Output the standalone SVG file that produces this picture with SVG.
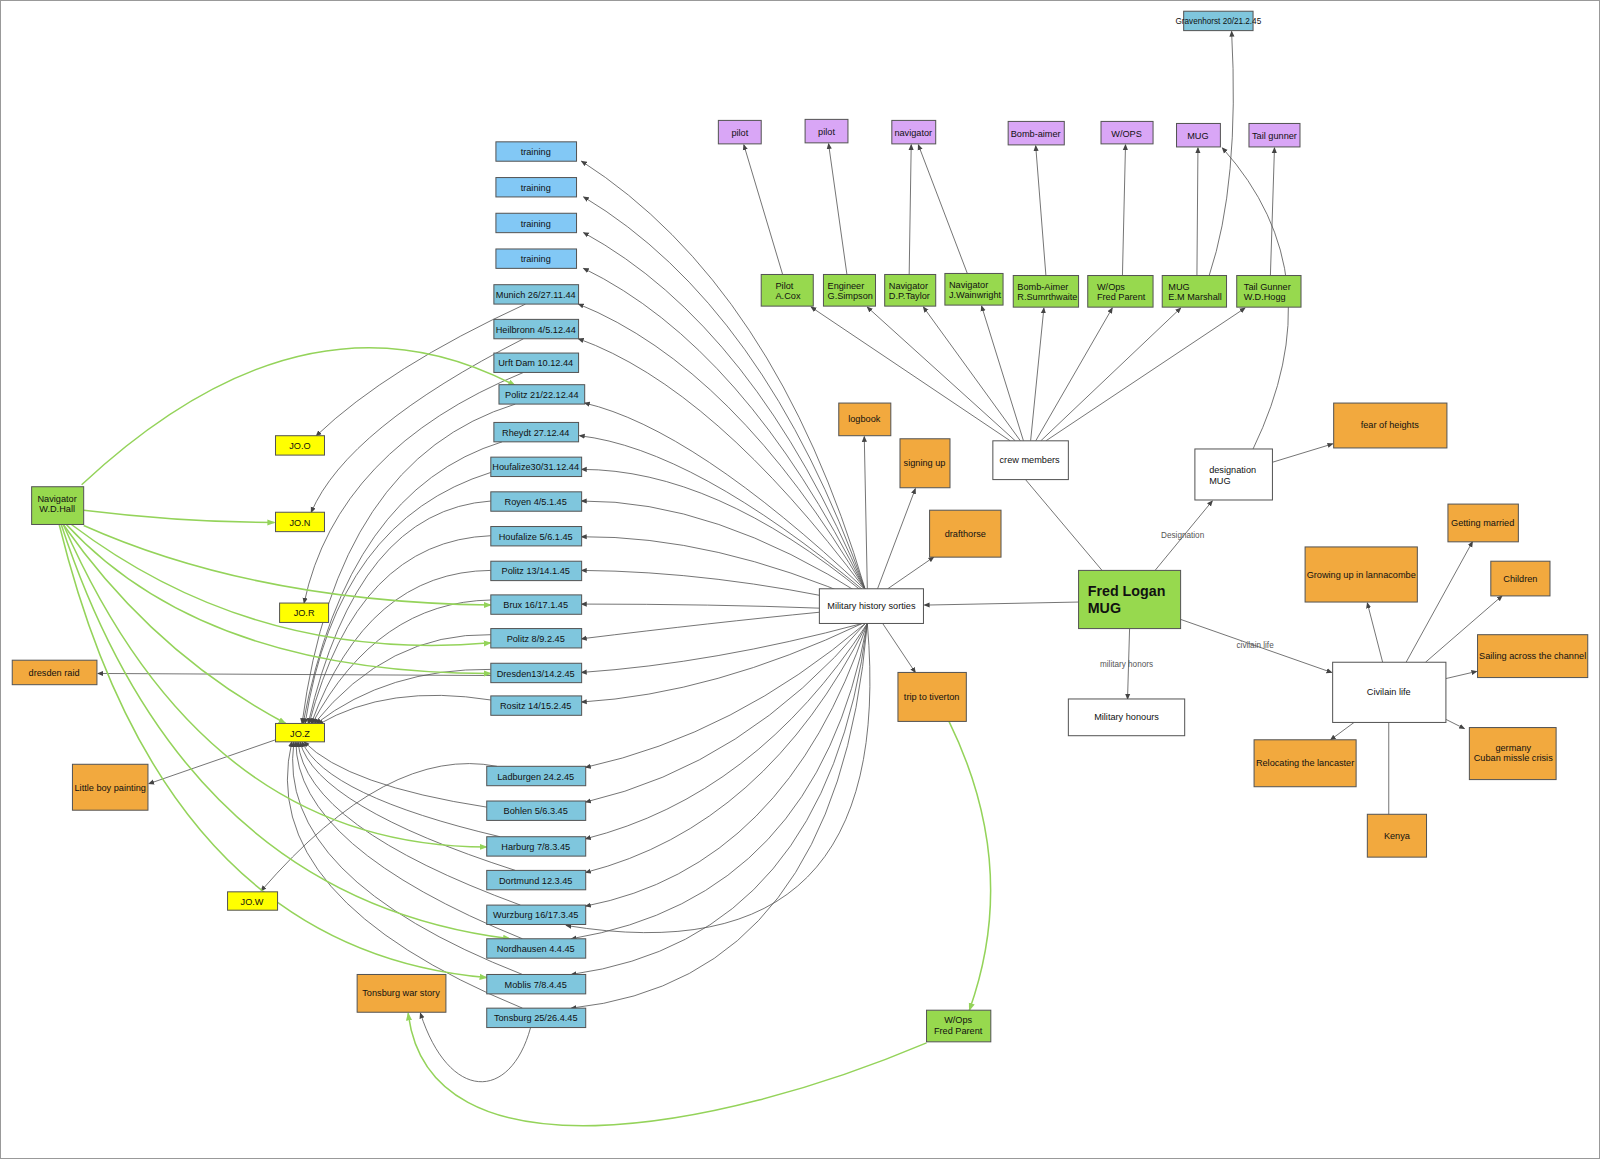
<svg xmlns="http://www.w3.org/2000/svg" width="1600" height="1159" viewBox="0 0 1600 1159">
<style>
text{font-family:"Liberation Sans",Arial,sans-serif;font-size:9px;fill:#111;text-anchor:middle}
.n rect{stroke:#555;stroke-width:1}
.b rect{fill:#7fc6dd}.t rect{fill:#82c8f5}.y rect{fill:#ffff00}.o rect{fill:#f2a93e}.g rect{fill:#97d94e}.p rect{fill:#d9a6f6}.w rect{fill:#fff}
.c path{fill:none;stroke:#555;stroke-width:0.8}
.c path.a{marker-end:url(#ar)}
.c path.gr{stroke:#94d35a;stroke-width:1.5;marker-end:url(#ag)}
.lbl{font-size:8px;fill:#555}
</style>
<defs>
<marker id="ar" markerWidth="6" markerHeight="6" refX="5" refY="3" orient="auto" markerUnits="userSpaceOnUse"><path d="M0,0.5 L6,3 L0,5.5 z" fill="#444"/></marker>
<marker id="ag" markerWidth="8" markerHeight="8" refX="7" refY="4" orient="auto" markerUnits="userSpaceOnUse"><path d="M0,1 L8,4 L0,7 z" fill="#94d35a"/></marker>
</defs>
<rect x="0" y="0" width="1600" height="1159" fill="#fff"/>
<rect x="0.5" y="0.5" width="1599" height="1158" fill="none" stroke="#999"/>
<g transform="scale(1.0204)">
<g id="connectors" class="c">
<path class="a" d="M848 578 Q 760 280 570 158"/>
<path class="a" d="M848 578 Q 750 300 572 193"/>
<path class="a" d="M848 578 Q 740 320 572 228"/>
<path class="a" d="M848 578 Q 730 340 572 263"/>
<path class="a" d="M848 578 Q 720 360 567 298"/>
<path class="a" d="M848 578 Q 700 380 567 332"/>
<path class="a" d="M848 578 Q 680 420 573 395"/>
<path class="a" d="M848 580 Q 680 440 568 427"/>
<path class="a" d="M848 582 Q 700 460 570 460"/>
<path class="a" d="M848 585 Q 700 490 570 491"/>
<path class="a" d="M848 590 Q 700 525 570 526"/>
<path class="a" d="M845 592 Q 700 560 570 559"/>
<path class="a" d="M803 596 Q 700 592 570 592"/>
<path class="a" d="M803 600 Q 700 610 570 626"/>
<path class="a" d="M845 611 Q 700 650 570 659"/>
<path class="a" d="M845 611 Q 700 680 570 688"/>
<path class="a" d="M848 611 Q 720 720 574 752"/>
<path class="a" d="M848 611 Q 730 750 574 786"/>
<path class="a" d="M850 611 Q 740 780 574 822"/>
<path class="a" d="M850 611 Q 750 810 574 855"/>
<path class="a" d="M850 611 Q 770 850 574 888"/>
<path class="a" d="M850 611 Q 880 960 555 907"/>
<path class="a" d="M850 611 Q 800 880 560 920"/>
<path class="a" d="M850 611 Q 810 920 560 955"/>
<path class="a" d="M850 611 Q 820 960 560 988"/>
<path class="a" d="M505 396 Q 330 450 296 709"/>
<path class="a" d="M492 433 Q 340 480 297 709"/>
<path class="a" d="M481 463 Q 330 510 299 709"/>
<path class="a" d="M481 491 Q 350 500 302 709"/>
<path class="a" d="M481 525 Q 350 530 303 709"/>
<path class="a" d="M481 559 Q 360 560 305 709"/>
<path class="a" d="M481 588 Q 370 590 306 709"/>
<path class="a" d="M481 622 Q 380 620 308 709"/>
<path class="a" d="M481 656 Q 380 655 310 709"/>
<path class="a" d="M481 686 Q 380 670 312 710"/>
<path class="a" d="M477 791 Q 340 770 298 727"/>
<path class="a" d="M490 820 Q 320 780 296 727"/>
<path class="a" d="M505 853 Q 310 790 294 727"/>
<path class="a" d="M510 887 Q 300 810 292 727"/>
<path class="a" d="M512 920 Q 290 830 290 727"/>
<path class="a" d="M512 955 Q 270 860 288 727"/>
<path class="a" d="M512 988 Q 250 880 286 727"/>
<path class="a" d="M515 298 Q 380 360 310 427"/>
<path class="a" d="M513 332 Q 340 420 305 502"/>
<path class="a" d="M513 365 Q 330 440 298 591"/>
<path class="a" d="M487 751 Q 380 730 256 873"/>
<path class="a" d="M270 725 L 146 768"/>
<path class="a" d="M481 662 L 96 660"/>
<path class="a" d="M520 1007 C 500 1080, 440 1080, 412 993"/>
<path class="gr" d="M80 475 Q 300 270 505 378"/>
<path class="gr" d="M82 500 Q 180 512 269 512"/>
<path class="gr" d="M82 515 Q 250 590 481 593"/>
<path class="gr" d="M70 514 Q 250 650 481 630"/>
<path class="gr" d="M65 514 Q 200 660 481 660"/>
<path class="gr" d="M62 514 Q 150 640 280 709"/>
<path class="gr" d="M62 514 Q 200 830 477 830"/>
<path class="gr" d="M60 514 Q 180 880 500 920"/>
<path class="gr" d="M58 514 Q 160 930 477 958"/>
<path class="gr" d="M930 707 Q 1000 850 950 990"/>
<path class="gr" d="M908 1022 C 700 1110, 420 1160, 400 993"/>
<path class="a" d="M990 432 L 795 301"/>
<path class="a" d="M995 432 L 850 301"/>
<path class="a" d="M1000 432 L 905 301"/>
<path class="a" d="M1003 432 L 962 300"/>
<path class="a" d="M1010 432 L 1023 302"/>
<path class="a" d="M1015 432 L 1090 302"/>
<path class="a" d="M1020 432 L 1157 302"/>
<path class="a" d="M1025 432 L 1220 302"/>
<path class="a" d="M767 269 L 729 142"/>
<path class="a" d="M830 269 L 812 141"/>
<path class="a" d="M891 269 L 893 142"/>
<path class="a" d="M948 268 L 900 142"/>
<path class="a" d="M1025 270 L 1015 143"/>
<path class="a" d="M1100 270 L 1103 142"/>
<path class="a" d="M1173 270 L 1174 145"/>
<path class="a" d="M1245 270 L 1249 145"/>
<path class="a" d="M1185 270 Q 1215 180 1207 31"/>
<path class="a" d="M1228 440 Q 1310 270 1198 145"/>
<path class="a" d="M1247 453 L 1306 435"/>
<path d="M1080 559 L 1005 470"/>
<path class="a" d="M1132 559 L 1188 491"/>
<path class="a" d="M1057 590 L 906 593"/>
<path class="a" d="M1107 616 L 1105 685"/>
<path class="a" d="M1157 607 L 1305 659"/>
<path class="a" d="M850 577 L 847 428"/>
<path class="a" d="M860 577 L 897 479"/>
<path class="a" d="M870 577 L 915 546"/>
<path class="a" d="M865 611 L 897 659"/>
<path class="a" d="M1355 649 L 1340 591"/>
<path class="a" d="M1378 649 L 1443 531"/>
<path class="a" d="M1397 649 L 1472 584"/>
<path class="a" d="M1417 665 L 1447 658"/>
<path class="a" d="M1417 705 L 1435 714"/>
<path class="a" d="M1327 708 L 1304 725"/>
<path d="M1361 708 L 1361 798"/>
<text class="lbl" x="1159" y="527" style="fill:#555;font-size:8px">Designation</text>
<text class="lbl" x="1104" y="654" style="fill:#555;font-size:8px">military honors</text>
<text class="lbl" x="1230" y="635" style="fill:#555;font-size:8px">civilain life</text>
</g>
<g id="training1" class="n t"><rect x="486" y="139" width="79" height="19"/><text x="525" y="152">training</text></g>
<g id="training2" class="n t"><rect x="486" y="174" width="79" height="19"/><text x="525" y="187">training</text></g>
<g id="training3" class="n t"><rect x="486" y="209" width="79" height="19"/><text x="525" y="222">training</text></g>
<g id="training4" class="n t"><rect x="486" y="244" width="79" height="19"/><text x="525" y="257">training</text></g>
<g id="munich" class="n b"><rect x="484" y="279" width="83" height="19"/><text x="525" y="292">Munich 26/27.11.44</text></g>
<g id="heilbronn" class="n b"><rect x="484" y="313" width="83" height="19"/><text x="525" y="326">Heilbronn 4/5.12.44</text></g>
<g id="urft" class="n b"><rect x="484" y="346" width="83" height="19"/><text x="525" y="359">Urft Dam 10.12.44</text></g>
<g id="politz21" class="n b"><rect x="489" y="377" width="84" height="19"/><text x="531" y="390">Politz 21/22.12.44</text></g>
<g id="rheydt" class="n b"><rect x="484" y="414" width="83" height="19"/><text x="525" y="427">Rheydt 27.12.44</text></g>
<g id="houf30" class="n b"><rect x="481" y="448" width="89" height="19"/><text x="525" y="461">Houfalize30/31.12.44</text></g>
<g id="royen" class="n b"><rect x="481" y="482" width="89" height="19"/><text x="525" y="495">Royen 4/5.1.45</text></g>
<g id="houf5" class="n b"><rect x="481" y="516" width="89" height="19"/><text x="525" y="529">Houfalize 5/6.1.45</text></g>
<g id="politz13" class="n b"><rect x="481" y="550" width="89" height="19"/><text x="525" y="563">Politz 13/14.1.45</text></g>
<g id="brux" class="n b"><rect x="481" y="583" width="89" height="19"/><text x="525" y="596">Brux 16/17.1.45</text></g>
<g id="politz8" class="n b"><rect x="481" y="616" width="89" height="19"/><text x="525" y="629">Politz 8/9.2.45</text></g>
<g id="dresden" class="n b"><rect x="481" y="650" width="89" height="19"/><text x="525" y="663">Dresden13/14.2.45</text></g>
<g id="rositz" class="n b"><rect x="481" y="682" width="89" height="19"/><text x="525" y="695">Rositz 14/15.2.45</text></g>
<g id="ladburgen" class="n b"><rect x="477" y="751" width="97" height="19"/><text x="525" y="764">Ladburgen 24.2.45</text></g>
<g id="bohlen" class="n b"><rect x="477" y="785" width="97" height="19"/><text x="525" y="798">Bohlen 5/6.3.45</text></g>
<g id="harburg" class="n b"><rect x="477" y="820" width="97" height="19"/><text x="525" y="833">Harburg 7/8.3.45</text></g>
<g id="dortmund" class="n b"><rect x="477" y="853" width="97" height="19"/><text x="525" y="866">Dortmund 12.3.45</text></g>
<g id="wurzburg" class="n b"><rect x="477" y="887" width="97" height="19"/><text x="525" y="900">Wurzburg 16/17.3.45</text></g>
<g id="nordhausen" class="n b"><rect x="477" y="920" width="97" height="19"/><text x="525" y="933">Nordhausen 4.4.45</text></g>
<g id="moblis" class="n b"><rect x="477" y="955" width="97" height="19"/><text x="525" y="968">Moblis 7/8.4.45</text></g>
<g id="tonsburg" class="n b"><rect x="477" y="988" width="97" height="19"/><text x="525" y="1001">Tonsburg 25/26.4.45</text></g>
<g id="gravenhorst" class="n b"><rect x="1160" y="11" width="68" height="19"/><text x="1194" y="24" style="font-size:8px">Gravenhorst 20/21.2.45</text></g>
<g id="joo" class="n y"><rect x="270" y="427" width="48" height="19"/><text x="294" y="440">JO.O</text></g>
<g id="jon" class="n y"><rect x="270" y="502" width="48" height="19"/><text x="294" y="515">JO.N</text></g>
<g id="jor" class="n y"><rect x="274" y="591" width="48" height="19"/><text x="298" y="604">JO.R</text></g>
<g id="joz" class="n y"><rect x="270" y="709" width="48" height="18"/><text x="294" y="722">JO.Z</text></g>
<g id="jow" class="n y"><rect x="223" y="874" width="49" height="18"/><text x="247" y="887">JO.W</text></g>
<g id="hall" class="n g"><rect x="31" y="477" width="51" height="37"/><text x="56" y="492">Navigator</text><text x="56" y="502">W.D.Hall</text></g>
<g id="dresdenraid" class="n o"><rect x="12" y="647" width="83" height="24"/><text x="53" y="662">dresden raid</text></g>
<g id="littleboy" class="n o"><rect x="71" y="749" width="74" height="45"/><text x="108" y="775">Little boy painting</text></g>
<g id="warstory" class="n o"><rect x="350" y="955" width="87" height="37"/><text x="393" y="976">Tonsburg  war story</text></g>
<g id="logbook" class="n o"><rect x="822" y="395" width="51" height="32"/><text x="847" y="414">logbook</text></g>
<g id="signing" class="n o"><rect x="882" y="430" width="49" height="48"/><text x="906" y="457">signing up</text></g>
<g id="drafthorse" class="n o"><rect x="911" y="500" width="70" height="46"/><text x="946" y="526">drafthorse</text></g>
<g id="tiverton" class="n o"><rect x="880" y="659" width="67" height="48"/><text x="913" y="686">trip to tiverton</text></g>
<g id="fear" class="n o"><rect x="1307" y="395" width="111" height="44"/><text x="1362" y="419">fear of heights</text></g>
<g id="married" class="n o"><rect x="1419" y="494" width="69" height="37"/><text x="1453" y="515">Getting married</text></g>
<g id="growing" class="n o"><rect x="1279" y="536" width="110" height="54"/><text x="1334" y="566">Growing up in lannacombe</text></g>
<g id="children" class="n o"><rect x="1461" y="550" width="58" height="34"/><text x="1490" y="570">Children</text></g>
<g id="sailing" class="n o"><rect x="1448" y="622" width="108" height="42"/><text x="1502" y="646">Sailing across the channel</text></g>
<g id="relocating" class="n o"><rect x="1229" y="725" width="100" height="46"/><text x="1279" y="751">Relocating the lancaster</text></g>
<g id="germany" class="n o"><rect x="1440" y="713" width="85" height="51"/><text x="1483" y="736">germany</text><text x="1483" y="746">Cuban missle crisis</text></g>
<g id="kenya" class="n o"><rect x="1340" y="798" width="58" height="42"/><text x="1369" y="822">Kenya</text></g>
<g id="p1" class="n p"><rect x="704" y="118" width="42" height="23"/><text x="725" y="133">pilot</text></g>
<g id="p2" class="n p"><rect x="789" y="117" width="42" height="23"/><text x="810" y="132">pilot</text></g>
<g id="p3" class="n p"><rect x="874" y="118" width="43" height="23"/><text x="895" y="133">navigator</text></g>
<g id="p4" class="n p"><rect x="988" y="119" width="55" height="23"/><text x="1015" y="134">Bomb-aimer</text></g>
<g id="p5" class="n p"><rect x="1079" y="119" width="51" height="22"/><text x="1104" y="134">W/OPS</text></g>
<g id="p6" class="n p"><rect x="1153" y="121" width="43" height="23"/><text x="1174" y="136">MUG</text></g>
<g id="p7" class="n p"><rect x="1224" y="121" width="50" height="23"/><text x="1249" y="136">Tail gunner</text></g>
<g id="c1" class="n g"><rect x="746" y="269" width="51" height="31"/><text x="770" y="283" text-anchor="start" style="text-anchor:start" dx="-10">Pilot</text><text x="760" y="293" style="text-anchor:start">A.Cox</text></g>
<g id="c2" class="n g"><rect x="807" y="269" width="51" height="31"/><text x="811" y="283" style="text-anchor:start">Engineer</text><text x="811" y="293" style="text-anchor:start">G.Simpson</text></g>
<g id="c3" class="n g"><rect x="867" y="269" width="50" height="31"/><text x="871" y="283" style="text-anchor:start">Navigator</text><text x="871" y="293" style="text-anchor:start">D.P.Taylor</text></g>
<g id="c4" class="n g"><rect x="926" y="268" width="57" height="31"/><text x="930" y="282" style="text-anchor:start">Navigator</text><text x="930" y="292" style="text-anchor:start">J.Wainwright</text></g>
<g id="c5" class="n g"><rect x="993" y="270" width="64" height="31"/><text x="997" y="284" style="text-anchor:start">Bomb-Aimer</text><text x="997" y="294" style="text-anchor:start">R.Sumrthwaite</text></g>
<g id="c6" class="n g"><rect x="1066" y="270" width="64" height="31"/><text x="1075" y="284" style="text-anchor:start">W/Ops</text><text x="1075" y="294" style="text-anchor:start">Fred Parent</text></g>
<g id="c7" class="n g"><rect x="1139" y="270" width="63" height="31"/><text x="1145" y="284" style="text-anchor:start">MUG</text><text x="1145" y="294" style="text-anchor:start">E.M Marshall</text></g>
<g id="c8" class="n g"><rect x="1212" y="270" width="63" height="31"/><text x="1219" y="284" style="text-anchor:start">Tail Gunner</text><text x="1219" y="294" style="text-anchor:start">W.D.Hogg</text></g>
<g id="crew" class="n w"><rect x="973" y="432" width="74" height="38"/><text x="1009" y="454">crew members</text></g>
<g id="designation" class="n w"><rect x="1171" y="440" width="76" height="50"/><text x="1185" y="464" style="text-anchor:start">designation</text><text x="1185" y="474" style="text-anchor:start">MUG</text></g>
<g id="sorties" class="n w"><rect x="803" y="577" width="102" height="34"/><text x="854" y="597">Military history sorties</text></g>
<g id="fred" class="n g"><rect x="1057" y="559" width="100" height="57"/><text x="1066" y="584" style="text-anchor:start;font-size:14px;font-weight:bold">Fred Logan</text><text x="1066" y="601" style="text-anchor:start;font-size:14px;font-weight:bold">MUG</text></g>
<g id="honours" class="n w"><rect x="1047" y="685" width="114" height="36"/><text x="1104" y="706">Military honours</text></g>
<g id="civilian" class="n w"><rect x="1306" y="649" width="111" height="59"/><text x="1361" y="681">Civilain life</text></g>
<g id="wops2" class="n g"><rect x="908" y="990" width="63" height="31"/><text x="939" y="1003">W/Ops</text><text x="939" y="1013">Fred Parent</text></g>
</g>
</svg>
